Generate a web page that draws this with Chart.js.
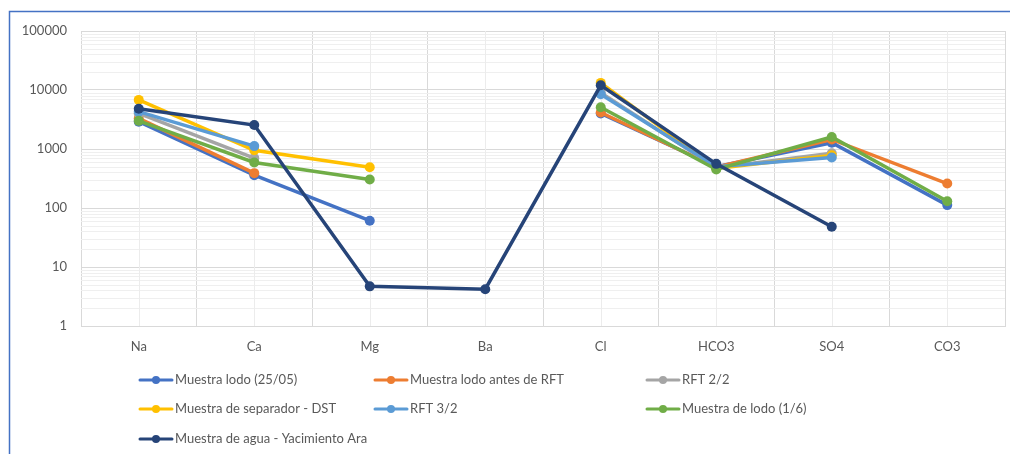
<!DOCTYPE html>
<html lang="es">
  <head>
    <meta charset="UTF-8" />
    <title>Muestras</title>
    <script src="https://cdn.jsdelivr.net/npm/chart.js"></script>
    <style>
      body { margin: 0; background: #fff; }
      #wrap { position: relative; width: 1010px; height: 454px; }
    </style>
  </head>
  <body>
    <div id="wrap"><canvas id="myChart"></canvas></div>
  </body>
</html>
<script>
  var iones = ["Na", "Ca", "Mg", "Ba", "Cl", "HCO3", "SO4", "CO3"];
  var ticksY = [1, 10, 100, 1000, 10000, 100000];

  var lodo2505 = [2900, 360, 61, null, 4000, 500, 1280, 112];
  var lodoAntesRFT = [3300, 390, null, null, 4150, 490, 1450, 260];
  var rft22 = [4000, 700, null, null, 9000, 480, 850, null];
  var separadorDST = [6800, 950, 490, null, 13200, 470, 780, null];
  var rft32 = [4300, 1120, null, null, 8500, 500, 720, null];
  var lodo16 = [3000, 590, 305, null, 5100, 450, 1600, 130];
  var aguaAra = [4800, 2550, 4.7, 4.2, 12000, 560, 48, null];

  var nombres = [
    "Muestra lodo (25/05)",
    "Muestra lodo antes de RFT",
    "RFT 2/2",
    "Muestra de separador - DST",
    "RFT 3/2",
    "Muestra de lodo (1/6)",
    "Muestra de agua - Yacimiento Ara",
  ];
  var colores = ["#4472C4", "#ED7D31", "#A5A5A5", "#FFC000", "#5B9BD5", "#70AD47", "#264478"];
  var series = [lodo2505, lodoAntesRFT, rft22, separadorDST, rft32, lodo16, aguaAra];

  var fuente = "Lato, 'Open Sans', sans-serif";
  var gris = "#595959";

  // marco azul, grilla menor y lineas centrales de categoria
  var fondo = {
    id: "fondo",
    beforeDraw: function (chart) {
      var ctx = chart.ctx;
      ctx.save();
      ctx.strokeStyle = "#4472C4";
      ctx.lineWidth = 1.5;
      ctx.strokeRect(9.5, 11.5, 1020, 460);
      ctx.restore();
    },
    beforeDatasetsDraw: function (chart) {
      var ctx = chart.ctx;
      var a = chart.chartArea;
      var x = chart.scales.x;
      var y = chart.scales.y;
      ctx.save();
      ctx.lineWidth = 1;
      ctx.strokeStyle = "#efefef";
      for (var e = 0; e < 5; e++) {
        for (var k = 2; k < 10; k++) {
          var py = Math.round(y.getPixelForValue(k * Math.pow(10, e))) + 0.5;
          ctx.beginPath();
          ctx.moveTo(a.left, py);
          ctx.lineTo(a.right, py);
          ctx.stroke();
        }
      }
      ctx.strokeStyle = "#ececec";
      for (var i = 0; i < iones.length; i++) {
        var px = Math.round(x.getPixelForValue(i)) + 0.5;
        ctx.beginPath();
        ctx.moveTo(px, a.top);
        ctx.lineTo(px, a.bottom);
        ctx.stroke();
      }
      ctx.restore();
    },
  };

  // leyenda en tres columnas como en Excel
  var leyenda = {
    id: "leyenda",
    afterDraw: function (chart) {
      var ctx = chart.ctx;
      var colX = [140, 375, 647];
      var filaY = [380, 409, 439];
      ctx.save();
      ctx.font = "13px " + fuente;
      ctx.textBaseline = "middle";
      ctx.textAlign = "left";
      for (var i = 0; i < nombres.length; i++) {
        var x0 = colX[i % 3];
        var y0 = filaY[Math.floor(i / 3)];
        ctx.strokeStyle = colores[i];
        ctx.fillStyle = colores[i];
        ctx.lineWidth = 3;
        ctx.lineCap = "round";
        ctx.beginPath();
        ctx.moveTo(x0, y0);
        ctx.lineTo(x0 + 32, y0);
        ctx.stroke();
        ctx.beginPath();
        ctx.arc(x0 + 16, y0, 4, 0, Math.PI * 2);
        ctx.fill();
        ctx.fillStyle = gris;
        ctx.fillText(nombres[i], x0 + 35, y0);
      }
      ctx.restore();
    },
  };

  var datasets = [];
  for (var i = 0; i < series.length; i++) {
    datasets.push({
      label: nombres[i],
      data: series[i],
      borderColor: colores[i],
      backgroundColor: colores[i],
      borderWidth: 3.5,
      pointRadius: 5,
      pointHoverRadius: 5,
      pointBorderWidth: 0,
      spanGaps: false,
      order: series.length - 1 - i,
    });
  }

  Chart.defaults.font.family = fuente;
  Chart.defaults.font.size = 13;
  Chart.defaults.color = gris;

  new Chart(document.getElementById("myChart"), {
    type: "line",
    data: { labels: iones, datasets: datasets },
    plugins: [fondo, leyenda],
    options: {
      responsive: true,
      maintainAspectRatio: false,
      animation: false,
      layout: { padding: { left: 10, right: 4, top: 31, bottom: 98 } },
      plugins: {
        legend: { display: false },
        tooltip: { enabled: false },
      },
      scales: {
        x: {
          offset: true,
          grid: { color: "#d9d9d9", drawTicks: false, offset: true },
          border: { color: "#d9d9d9" },
          ticks: { padding: 13, color: gris },
          afterFit: function (s) { s.height = 30; },
        },
        y: {
          type: "logarithmic",
          min: 1,
          max: 100000,
          grid: { color: "#d9d9d9", drawTicks: false },
          border: { color: "#d9d9d9" },
          ticks: {
            padding: 14,
            color: gris,
            callback: function (v) { return String(v); },
          },
          afterBuildTicks: function (s) {
            s.ticks = ticksY.map(function (v) { return { value: v }; });
          },
          afterFit: function (s) { s.width = 71; },
        },
      },
    },
  });
</script>
